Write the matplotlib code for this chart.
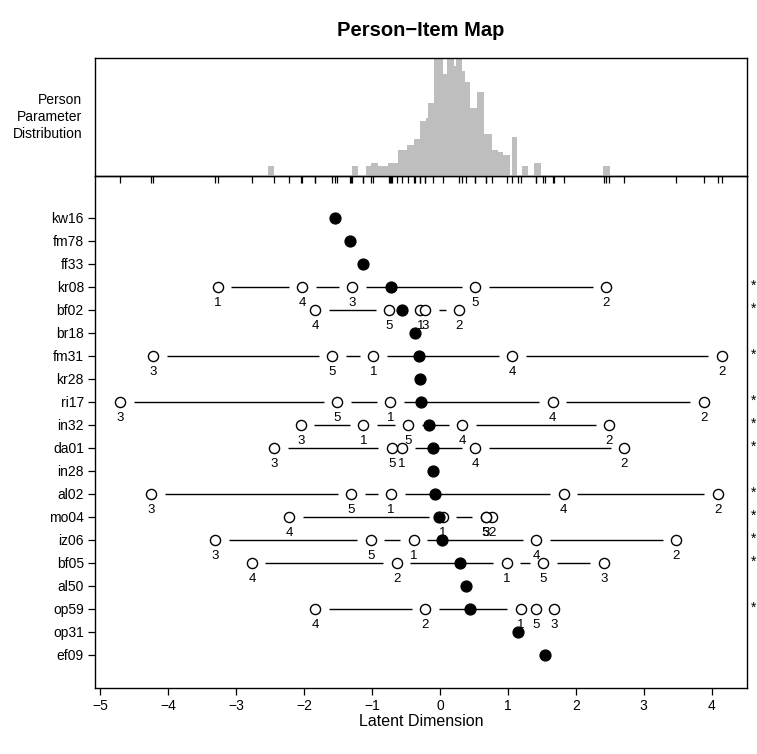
import numpy as np
import matplotlib
matplotlib.use("Agg")
import matplotlib.pyplot as plt

plt.rcParams['font.family'] = ['Liberation Sans', 'DejaVu Sans']

# ---- item parameters -------------------------------------------------------
items = ["kw16", "fm78", "ff33", "kr08", "bf02", "br18", "fm31", "kr28", "ri17", "in32",
         "da01", "in28", "al02", "mo04", "iz06", "bf05", "al50", "op59", "op31", "ef09"]

# thresholds 1..5 of each item (one value = dichotomous item)
thresholds = [
    [-1.55],
    [-1.33],
    [-1.13],
    [-3.27, 2.45, -1.29, -2.03, 0.52],
    [-0.29, 0.28, -0.22, -1.84, -0.75],
    [-0.37],
    [-0.98, 4.15, -4.22, 1.06, -1.59],
    [-0.29],
    [-0.73, 3.88, -4.71, 1.66, -1.51],
    [-1.13, 2.49, -2.05, 0.33, -0.47],
    [-0.56, 2.71, -2.44, 0.52, -0.71],
    [-0.10],
    [-0.72, 4.09, -4.25, 1.82, -1.31],
    [0.04, 0.76, 0.68, -2.22, 0.67],
    [-0.39, 3.48, -3.31, 1.42, -1.02],
    [0.98, -0.64, 2.41, -2.77, 1.52],
    [0.38],
    [1.19, -0.22, 1.68, -1.84, 1.42],
    [1.15],
    [1.55],
]

# ---- person parameter histogram ---------------------------------------------
hist_edges = [-2.53, -2.44, -1.30, -1.21, -1.09, -1.01, -0.92, -0.76, -0.62, -0.48,
              -0.39, -0.29, -0.21, -0.18, -0.09, 0.05, 0.10, 0.20, 0.24, 0.33,
              0.37, 0.44, 0.54, 0.65, 0.76, 0.85, 0.93, 1.03, 1.06, 1.14,
              1.20, 1.30, 1.39, 1.48, 2.40, 2.50]
hist_counts = [4, 0, 4, 0, 4, 5, 4, 5, 10, 12,
               14, 21, 22, 28, 45, 39, 45, 42, 45, 40,
               36, 26, 32, 16, 10, 9, 8, 0, 15, 0,
               4, 0, 5, 0, 4]

x_ticks = [-5, -4, -3, -2, -1, 0, 1, 2, 3, 4]
xlim = (-5.08, 4.52)

W, H = 757, 754
fig = plt.figure(figsize=(W / 100, H / 100), dpi=100)

L, R = 95, 747
top_t, top_b = 58, 176
bot_t, bot_b = 176, 688

ax_bot = fig.add_axes([L / W, 1 - bot_b / H, (R - L) / W, (bot_b - bot_t) / H])
ax_top = fig.add_axes([L / W, 1 - top_b / H, (R - L) / W, (top_b - top_t) / H], zorder=3)
ax_top.patch.set_alpha(0)

for ax in (ax_top, ax_bot):
    ax.set_xlim(*xlim)
    for s in ax.spines.values():
        s.set_linewidth(1.0)
        s.set_color("black")

# histogram panel
ax_top.stairs(hist_counts, hist_edges, fill=True, color="#BEBEBE", linewidth=0)
ax_top.set_ylim(0, 45)
ax_top.set_yticks([])
all_thr = [t for row in thresholds for t in row]
ax_top.set_xticks(all_thr)
ax_top.set_xticklabels([])
ax_top.tick_params(axis="x", direction="out", length=5, width=0.9, color="black")
ax_top.text(-13 / (R - L), 0.5, "Person\nParameter\nDistribution", transform=ax_top.transAxes,
            ha="right", va="center", fontsize=10, linespacing=1.3)

# item map panel
n = len(items)
ypos = np.arange(n, 0, -1)
ax_bot.set_ylim(-0.45, 21.81)
ax_bot.set_yticks(ypos)
ax_bot.set_yticklabels(items, fontsize=10)
ax_bot.set_xticks(x_ticks)
ax_bot.tick_params(axis="both", direction="out", length=5, width=0.9, labelsize=10)
ax_bot.tick_params(axis="y", pad=3)
ax_bot.tick_params(axis="x", pad=3)
ax_bot.set_xlabel("Latent Dimension", fontsize=11.5, labelpad=1)

px_per_unit = (R - L) / (xlim[1] - xlim[0])
gap = 13.5 / px_per_unit

for y, thr in zip(ypos, thresholds):
    thr = np.asarray(thr, dtype=float)
    loc = thr.mean()
    if len(thr) > 1:
        s = np.sort(thr)
        for a, b in zip(s[:-1], s[1:]):
            if b - a > 2 * gap:
                ax_bot.plot([a + gap, b - gap], [y, y], color="black", lw=1.0,
                            solid_capstyle="butt", zorder=2)
        ax_bot.plot(thr, np.full(len(thr), y), "o", ms=7.3, mfc="white", mec="black",
                    mew=1.0, ls="none", zorder=3)
        for k, t in enumerate(thr, start=1):
            ax_bot.text(t, y - 0.70, str(k), ha="center", va="center", fontsize=9.5, zorder=4)
        if np.any(np.diff(thr) < 0):
            ax_bot.text(1.0107, y + 0.05, "*", transform=ax_bot.get_yaxis_transform(),
                        ha="center", va="center", fontsize=10, clip_on=False)
    ax_bot.plot([loc], [y], "o", ms=7.8, mfc="black", mec="black", ls="none", zorder=5)

fig.text((L + R) / 2 / W, 1 - 31 / H, "Person\u2212Item Map", ha="center", va="center",
         fontsize=14.5, fontweight="bold")

fig.savefig("out.png", dpi=100)
